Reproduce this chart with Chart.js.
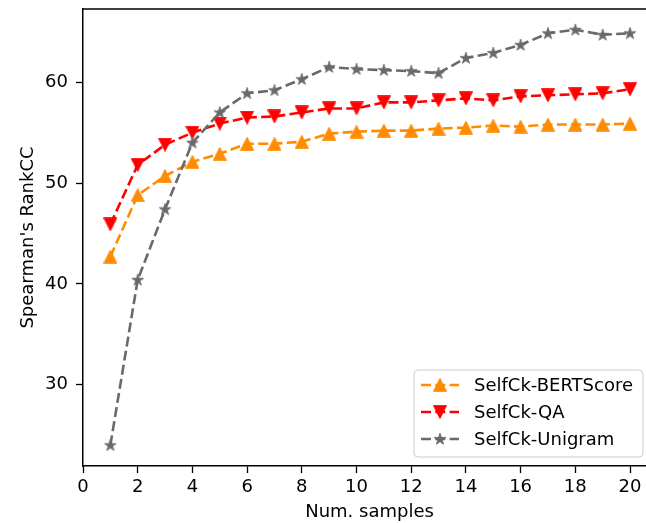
<!DOCTYPE html>
<html>
<head>
<meta charset="utf-8">
<script src="https://cdn.jsdelivr.net/npm/chart.js@4"></script>
<style>
  html, body { margin: 0; padding: 0; overflow: hidden; background: #fff; }
  #wrap { width: 680px; height: 523px; }
</style>
</head>
<body>
<div id="wrap"><canvas id="c" width="680" height="523"></canvas></div>
<script>
// ---- data ----
const numSamples = [1,2,3,4,5,6,7,8,9,10,11,12,13,14,15,16,17,18,19,20];
const bertScore = [42.7, 48.8, 50.7, 52.1, 52.9, 53.9, 53.9, 54.1, 54.9, 55.1, 55.2, 55.2, 55.4, 55.5, 55.7, 55.6, 55.8, 55.8, 55.8, 55.9];
const qaScore   = [45.9, 51.8, 53.8, 55.0, 55.9, 56.5, 56.6, 57.0, 57.4, 57.4, 58.0, 58.0, 58.2, 58.4, 58.2, 58.6, 58.7, 58.8, 58.9, 59.3];
const unigram   = [24.0, 40.4, 47.4, 54.0, 57.0, 58.9, 59.2, 60.3, 61.5, 61.3, 61.2, 61.1, 60.9, 62.4, 62.9, 63.7, 64.85, 65.2, 64.7, 64.85];
const seriesNames = ['SelfCk-BERTScore', 'SelfCk-QA', 'SelfCk-Unigram'];
const xTicks = [0,2,4,6,8,10,12,14,16,18,20];
const yTicks = [30,40,50,60];
const xLimits = [0, 20.95];
const yLimits = [21.94, 67.26];
const xTitle = 'Num. samples';
const yTitle = "Spearman's RankCC";

// ---- marker images ----
function makeTri(color, up) {
  const c = document.createElement('canvas'); c.width = 14; c.height = 14;
  const g = c.getContext('2d'); g.fillStyle = color; g.strokeStyle = color; g.lineWidth = 0.8;
  g.beginPath();
  if (up) { g.moveTo(7, 0.4); g.lineTo(13.6, 13.4); g.lineTo(0.4, 13.4); }
  else { g.moveTo(0.4, 0.6); g.lineTo(13.6, 0.6); g.lineTo(7, 13.6); }
  g.closePath(); g.fill(); g.stroke();
  return c;
}
function makeStar(color) {
  const c = document.createElement('canvas'); c.width = 14; c.height = 14;
  const g = c.getContext('2d'); g.fillStyle = color; g.strokeStyle = color; g.lineWidth = 0.8;
  const R = 6.2, r = R * 0.382;
  g.beginPath();
  for (let i = 0; i < 10; i++) {
    const ang = -Math.PI / 2 + i * Math.PI / 5;
    const rr = i % 2 === 0 ? R : r;
    const px = 7 + rr * Math.cos(ang), py = 7.3 + rr * Math.sin(ang);
    if (i === 0) g.moveTo(px, py); else g.lineTo(px, py);
  }
  g.closePath(); g.fill(); g.stroke();
  return c;
}
const colors = ['#ff8c00', '#ff0000', '#696969'];
const markers = [makeTri(colors[0], true), makeTri(colors[1], false), makeStar(colors[2])];
const seriesValues = [bertScore, qaScore, unigram];

const datasets = seriesValues.map((vals, i) => ({
  label: seriesNames[i],
  data: numSamples.map((x, j) => ({ x: x, y: vals[j] })),
  borderColor: colors[i],
  backgroundColor: colors[i],
  borderWidth: 2.6,
  borderDash: [10, 4.3],
  pointStyle: markers[i],
  pointRadius: 6,
  pointHoverRadius: 6,
  tension: 0,
  fill: false,
  order: 3 - i
}));

// ---- plugins: frame + legend ----
const framePlugin = {
  id: 'frame',
  afterDraw(chart) {
    const { ctx, chartArea: a } = chart;
    ctx.save();
    ctx.strokeStyle = '#000'; ctx.lineWidth = 1.5;
    ctx.beginPath();
    ctx.moveTo(a.left, a.top); ctx.lineTo(a.right, a.top); ctx.lineTo(a.right, a.bottom);
    ctx.stroke();
    ctx.restore();
  }
};
const legendPlugin = {
  id: 'mplLegend',
  afterDraw(chart) {
    const { ctx, chartArea: a } = chart;
    const x0 = a.right - 242, y0 = a.bottom - 96, w = 229, h = 87, rad = 4;
    ctx.save();
    ctx.beginPath();
    ctx.moveTo(x0 + rad, y0); ctx.lineTo(x0 + w - rad, y0); ctx.arcTo(x0 + w, y0, x0 + w, y0 + rad, rad);
    ctx.lineTo(x0 + w, y0 + h - rad); ctx.arcTo(x0 + w, y0 + h, x0 + w - rad, y0 + h, rad);
    ctx.lineTo(x0 + rad, y0 + h); ctx.arcTo(x0, y0 + h, x0, y0 + h - rad, rad);
    ctx.lineTo(x0, y0 + rad); ctx.arcTo(x0, y0, x0 + rad, y0, rad);
    ctx.closePath();
    ctx.fillStyle = 'rgba(255,255,255,0.8)'; ctx.fill();
    ctx.strokeStyle = '#cccccc'; ctx.lineWidth = 1; ctx.stroke();
    chart.data.datasets.forEach((ds, i) => {
      const cy = y0 + 15 + i * 27;
      ctx.save();
      ctx.strokeStyle = ds.borderColor; ctx.lineWidth = ds.borderWidth;
      ctx.setLineDash(ds.borderDash);
      ctx.beginPath(); ctx.moveTo(x0 + 7, cy); ctx.lineTo(x0 + 45, cy); ctx.stroke();
      ctx.restore();
      const img = ds.pointStyle;
      ctx.drawImage(img, x0 + 26 - img.width / 2, cy - img.height / 2);
      ctx.fillStyle = '#000'; ctx.font = '18px "DejaVu Sans"';
      ctx.textAlign = 'left'; ctx.textBaseline = 'middle';
      ctx.fillText(ds.label, x0 + 60, cy + 1);
    });
    ctx.restore();
  }
};

Chart.defaults.font.family = '"DejaVu Sans", sans-serif';
Chart.defaults.color = '#000';

new Chart(document.getElementById('c'), {
  type: 'line',
  data: { datasets: datasets },
  options: {
    responsive: false,
    animation: false,
    events: [],
    layout: { padding: { left: 0, top: 9, right: 24, bottom: 0 } },
    plugins: { legend: { display: false }, tooltip: { enabled: false } },
    scales: {
      x: {
        type: 'linear', min: xLimits[0], max: xLimits[1],
        afterBuildTicks: s => { s.ticks = xTicks.map(v => ({ value: v })); },
        afterFit: s => { s.height = 57; s.paddingLeft = 0; s.paddingRight = 0; },
        grid: { display: true, drawOnChartArea: false, drawTicks: true, tickLength: 7, tickColor: '#000', tickWidth: 1.3 },
        border: { display: true, color: '#000', width: 1.5 },
        ticks: { font: { size: 18 }, color: '#000', padding: 4, maxRotation: 0, autoSkip: false },
        title: { display: true, text: xTitle, font: { size: 18 }, color: '#000', padding: { top: 0, bottom: 0 } }
      },
      y: {
        type: 'linear', min: yLimits[0], max: yLimits[1],
        afterBuildTicks: s => { s.ticks = yTicks.map(v => ({ value: v })); },
        afterFit: s => { s.width = 83; s.paddingTop = 0; s.paddingBottom = 0; },
        grid: { display: true, drawOnChartArea: false, drawTicks: true, tickLength: 7, tickColor: '#000', tickWidth: 1.3 },
        border: { display: true, color: '#000', width: 1.5 },
        ticks: { font: { size: 18 }, color: '#000', padding: 8, autoSkip: false },
        title: { display: true, text: yTitle, font: { size: 18 }, color: '#000', padding: { top: 18, bottom: 0 } }
      }
    }
  },
  plugins: [framePlugin, legendPlugin]
});
</script>
</body>
</html>
